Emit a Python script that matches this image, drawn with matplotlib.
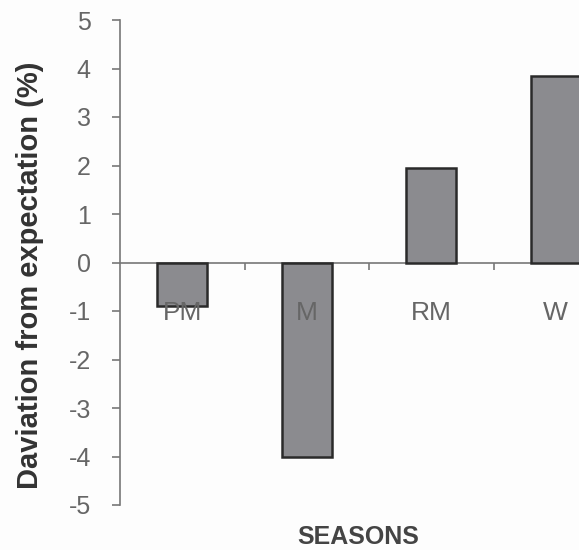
import matplotlib
matplotlib.use("Agg")
import matplotlib.pyplot as plt

categories = ["PM", "M", "RM", "W"]
values = [-0.9, -4.0, 1.95, 3.85]
yticks = [5, 4, 3, 2, 1, 0, -1, -2, -3, -4, -5]

plt.rcParams['font.family'] = ['Liberation Sans', 'DejaVu Sans']

fig = plt.figure(figsize=(5.79, 5.5), dpi=100)
fig.patch.set_facecolor('#fdfdfd')
ax = fig.add_axes([120/579, 45/550, 498/579, 485/550])
ax.set_facecolor('#fdfdfd')

x = list(range(len(categories)))
ax.bar(x, values, width=0.4, color='#8b8b8f', edgecolor='#2a2a2a', linewidth=1.8, zorder=3)

ax.set_xlim(-0.5, len(categories) - 0.5)
ax.set_ylim(-5, 5)
ax.set_yticks(yticks)
ax.set_yticklabels([str(v) for v in yticks], fontsize=18, color='#666666')
ax.tick_params(axis='y', direction='out', length=6, width=1.2, color='#777777', pad=15)

ax.spines['top'].set_visible(False)
ax.spines['right'].set_visible(False)
ax.spines['left'].set_color('#777777')
ax.spines['left'].set_linewidth(1.2)
ax.spines['bottom'].set_position(('data', 0))
ax.spines['bottom'].set_color('#777777')
ax.spines['bottom'].set_linewidth(1.2)

ax.set_xticks([i + 0.5 for i in range(len(categories) - 1)])
ax.set_xticklabels([])
ax.tick_params(axis='x', direction='out', length=5, width=1.2, color='#777777')

for i, c in enumerate(categories):
    ax.text(i, -1.05, c, ha='center', va='center', fontsize=19, color='#666666', zorder=4)

fig.text(30/579, 0.5, "Daviation from expectation (%)", rotation=90, ha='center',
         va='center', fontsize=21, fontweight='bold', color='#333333')
fig.text(358/579, 1 - 537/550, "SEASONS", ha='center', va='center', fontsize=18,
         fontweight='bold', color='#444444')

fig.savefig("out.png", dpi=100, facecolor=fig.get_facecolor())
